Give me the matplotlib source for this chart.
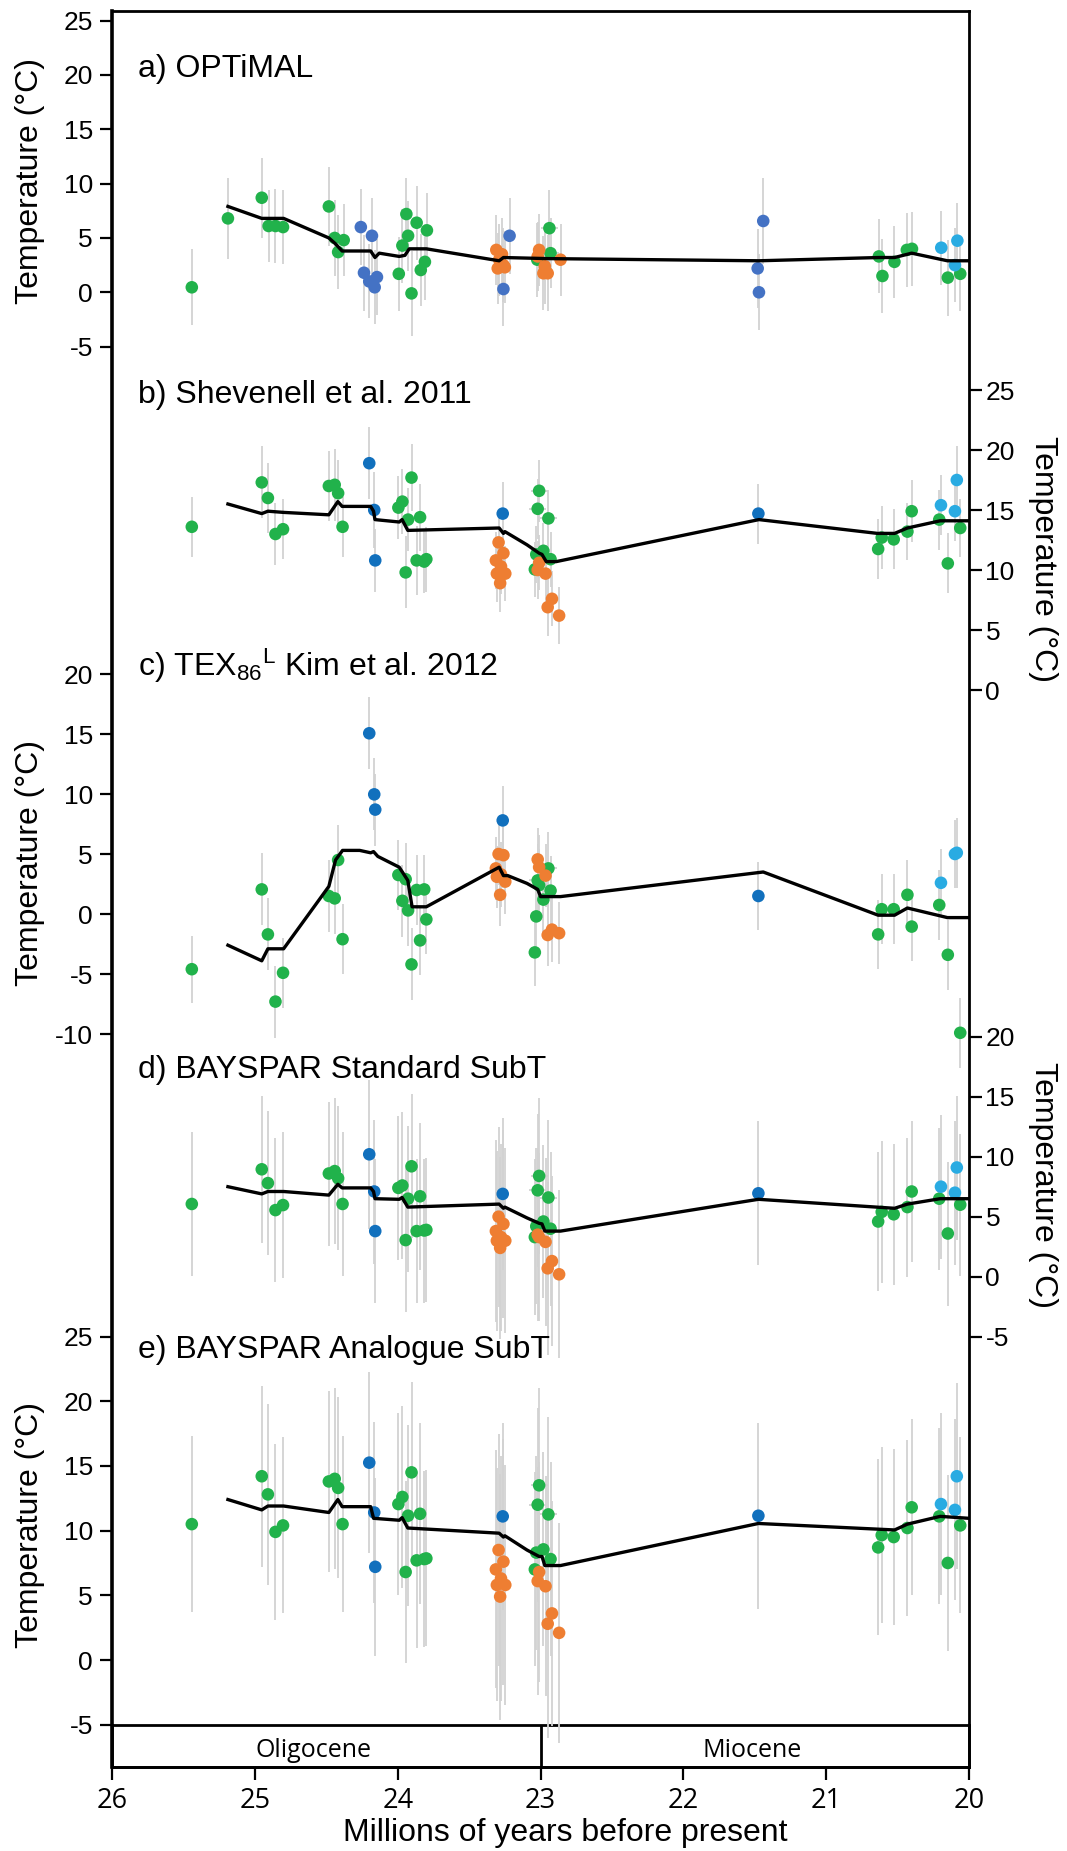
import matplotlib
matplotlib.use("Agg")
import matplotlib.pyplot as plt

plt.rcParams["font.family"] = ["Liberation Sans", "DejaVu Sans"]
plt.rcParams["mathtext.default"] = "regular"

GREEN = "#21b24b"
BLUE_A = "#4472c4"
BLUE = "#1170bd"
LIGHT_BLUE = "#29abe2"
ORANGE = "#ee7e32"
ERR_GREY = "#d2d2d2"

# ---------------- data ----------------
x_ticks = [26, 25, 24, 23, 22, 21, 20]
epoch_names = ["Oligocene", "Miocene"]
epoch_label_age = [24.59, 21.515]
epoch_boundary = 23.0

# panel a) OPTiMAL (own sample set)
a_green_age = [25.443, 25.19, 24.953, 24.905, 24.857, 24.804, 24.483, 24.442, 24.418, 24.379,
               23.993, 23.968, 23.94, 23.928, 23.904, 23.868, 23.839, 23.81, 23.796,
               23.023, 22.938, 22.93, 20.63, 20.605, 20.521, 20.434, 20.398, 20.147, 20.06]
a_green = [0.46, 6.8, 8.7, 6.1, 6.1, 6.0, 7.9, 5.0, 3.7, 4.8,
           1.7, 4.3, 7.2, 5.2, -0.1, 6.4, 2.05, 2.8, 5.7,
           3.0, 5.9, 3.6, 3.3, 1.5, 2.8, 3.9, 4.0, 1.35, 1.7]
a_green_err = [3.5, 3.7, 3.7, 3.3, 3.4, 3.4, 3.6, 3.5, 3.4, 3.3,
               3.4, 3.4, 3.3, 3.2, 3.9, 3.4, 3.3, 3.5, 3.4,
               3.4, 3.5, 3.2, 3.4, 3.4, 3.3, 3.4, 3.4, 3.5, 3.4]
a_green_xerr = [0, 0, 0, 0, 0, 0, 0, 0, 0, 0,
                0, 0, 0, 0, 0, 0, 0, 0, 0,
                0, 0.06, 0.06, 0, 0, 0, 0, 0, 0, 0]
a_blue_age = [24.259, 24.181, 24.237, 24.2, 24.146, 24.162, 23.217, 23.26, 21.44, 21.479, 21.47]
a_blue = [6.0, 5.2, 1.8, 1.0, 1.4, 0.46, 5.2, 0.3, 6.56, 2.2, 0.0]
a_blue_err = [3.5, 3.5, 3.5, 3.4, 3.5, 3.4, 3.5, 3.4, 4.0, 3.6, 3.5]
a_lblue_age = [20.193, 20.08, 20.097]
a_lblue = [4.1, 4.75, 2.5]
a_lblue_err = [3.4, 3.5, 3.4]
a_orange_age = [23.31, 23.27, 23.29, 23.26, 23.30, 23.25, 23.01, 23.02, 22.97, 22.98, 22.95, 22.86]
a_orange = [3.9, 3.5, 3.0, 2.5, 2.2, 2.3, 3.9, 3.3, 2.4, 1.75, 1.75, 3.0]
a_orange_err = [3.2, 3.3, 3.3, 3.4, 3.3, 3.3, 3.3, 3.2, 3.5, 3.4, 3.5, 3.3]
a_line_age = [25.19, 24.953, 24.80, 24.483, 24.44, 24.39, 24.19, 24.16, 24.13, 23.99, 23.95,
              23.92, 23.80, 23.29, 23.26, 22.95, 21.47, 20.63, 20.52, 20.40, 20.15, 20.0]
a_line = [7.9, 6.8, 6.8, 5.0, 4.5, 3.8, 3.8, 3.2, 3.6, 3.3, 3.4,
          4.0, 4.0, 2.9, 3.2, 3.1, 2.9, 3.2, 3.2, 3.6, 2.9, 2.9]

# panels b) - e): shared sample ages
g_age = [25.443, 24.953, 24.91, 24.857, 24.804, 24.483, 24.442, 24.418, 24.387,
         23.996, 23.968, 23.945, 23.928, 23.904, 23.868, 23.844, 23.815, 23.80,
         23.04, 23.03, 23.02, 23.01, 22.98, 22.945, 22.93,
         20.635, 20.61, 20.526, 20.43, 20.40, 20.207, 20.147, 20.06]
g_xerr = [0, 0, 0, 0, 0, 0, 0, 0, 0,
          0, 0, 0, 0, 0, 0, 0, 0, 0,
          0, 0, 0.06, 0.06, 0, 0.06, 0,
          0, 0, 0, 0, 0, 0, 0, 0]
blue_age = [24.20, 24.165, 24.158, 23.265, 21.474]
lblue_age = [20.195, 20.097, 20.084]
orange_age = [23.294, 23.26, 23.313, 23.277, 23.306, 23.247, 23.283,
              23.01, 23.02, 22.965, 22.92, 22.95, 22.87]

# b) Shevenell et al. 2011
b_green = [13.6, 17.3, 16.0, 13.0, 13.4, 17.0, 17.1, 16.4, 13.6,
           15.2, 15.7, 9.8, 14.2, 17.7, 10.8, 14.4, 10.7, 10.9,
           10.05, 11.3, 15.1, 16.6, 11.6, 14.3, 10.9,
           11.75, 12.7, 12.55, 13.2, 14.9, 14.2, 10.55, 13.5]
b_green_err = [2.5, 3.0, 2.9, 2.6, 2.5, 2.9, 3.0, 2.8, 2.5,
               2.6, 2.7, 3.0, 2.6, 2.8, 2.9, 2.8, 2.6, 2.7,
               2.3, 2.4, 2.5, 2.6, 2.3, 2.4, 2.3,
               2.5, 2.6, 2.5, 2.4, 2.6, 2.5, 2.5, 2.4]
b_blue = [18.9, 15.0, 10.8, 14.7, 14.7]
b_blue_err = [3.0, 3.2, 2.6, 2.6, 2.5]
b_lblue = [15.4, 14.9, 17.5]
b_lblue_err = [2.5, 2.5, 2.8]
b_orange = [12.3, 11.4, 10.8, 10.3, 9.7, 9.7, 8.9, 10.6, 10.0, 9.7, 7.6, 6.9, 6.2]
b_orange_err = [2.2, 2.3, 2.4, 2.3, 2.4, 2.3, 2.4, 2.3, 2.4, 2.4, 2.3, 2.4, 2.4]
b_line_age = [25.19, 24.953, 24.91, 24.80, 24.483, 24.42, 24.39, 24.19, 24.17, 24.16, 23.99,
              23.97, 23.93, 23.29, 23.26, 23.25, 23.095, 23.01, 22.99, 22.96, 22.89,
              21.47, 20.64, 20.52, 20.43, 20.2, 20.0]
b_line = [15.5, 14.7, 14.9, 14.8, 14.6, 15.7, 15.3, 15.3, 14.9, 14.2, 14.0,
          14.2, 13.3, 13.5, 13.05, 13.2, 12.1, 11.4, 11.3, 10.7, 10.7,
          14.2, 13.05, 13.05, 13.5, 14.1, 14.1]

# c) TEX86L Kim et al. 2012
c_green = [-4.6, 2.05, -1.7, -7.3, -4.9, 1.5, 1.3, 4.5, -2.1,
           3.25, 1.1, 2.9, 0.3, -4.2, 2.0, -2.2, 2.05, -0.45,
           -3.2, -0.2, 2.8, 2.4, 1.2, 3.8, 1.95,
           -1.7, 0.4, 0.4, 1.6, -1.05, 0.75, -3.4, -9.9]
c_green_err = [2.8, 3.0, 3.0, 3.0, 2.9, 3.0, 3.0, 2.9, 2.9,
               2.9, 3.0, 3.0, 3.0, 3.0, 2.9, 2.9, 2.9, 2.9,
               2.8, 2.9, 3.0, 3.0, 2.9, 3.0, 2.9,
               2.9, 2.9, 2.9, 2.9, 2.9, 2.9, 2.9, 2.9]
c_blue = [15.06, 9.97, 8.7, 7.8, 1.5]
c_blue_err = [3.0, 3.0, 3.0, 2.9, 2.8]
c_lblue = [2.6, 5.0, 5.1]
c_lblue_err = [2.8, 2.8, 2.9]
c_orange = [5.0, 4.9, 3.8, 3.3, 3.1, 2.7, 1.6, 3.9, 4.55, 3.2, -1.3, -1.75, -1.6]
c_orange_err = [2.6, 2.7, 2.6, 2.7, 2.6, 2.7, 2.6, 2.7, 2.6, 2.6, 2.7, 2.6, 2.6]
c_line_age = [25.19, 24.953, 24.91, 24.80, 24.483, 24.436, 24.387, 24.267, 24.19, 24.17, 24.14,
              23.99, 23.93, 23.90, 23.80, 23.29, 23.26, 23.23, 23.095, 23.02, 23.0, 22.86,
              21.44, 20.635, 20.52, 20.43, 20.15, 20.0]
c_line = [-2.6, -3.9, -2.9, -2.9, 2.3, 4.5, 5.3, 5.3, 5.1, 5.2, 4.8,
          3.9, 2.8, 0.6, 0.6, 3.9, 3.2, 3.2, 2.55, 2.05, 1.45, 1.45,
          3.5, -0.1, -0.1, 0.5, -0.3, -0.3]

# d) BAYSPAR Standard SubT
d_green = [6.06, 8.95, 7.8, 5.55, 5.97, 8.6, 8.8, 8.2, 6.06,
           7.4, 7.6, 3.05, 6.5, 9.2, 3.8, 6.7, 3.85, 3.9,
           3.3, 4.2, 7.2, 8.4, 4.6, 6.6, 4.0,
           4.6, 5.4, 5.2, 5.8, 7.1, 6.5, 3.6, 6.0]
d_green_err = [6.0, 6.1, 6.0, 6.0, 6.1, 6.0, 6.1, 6.0, 6.0,
               6.0, 6.1, 6.0, 6.1, 6.0, 6.0, 6.1, 6.0, 6.0,
               6.5, 6.5, 6.4, 6.5, 6.4, 6.5, 6.4,
               5.8, 5.9, 5.9, 5.8, 5.9, 5.9, 6.0, 5.9]
d_blue = [10.2, 7.1, 3.8, 6.9, 6.95]
d_blue_err = [6.2, 6.0, 6.0, 6.3, 6.0]
d_lblue = [7.5, 7.0, 9.1]
d_lblue_err = [6.0, 6.0, 6.0]
d_orange = [5.0, 4.4, 3.8, 3.3, 3.0, 3.0, 2.4, 3.3, 3.5, 2.9, 1.3, 0.7, 0.2]
d_orange_err = [7.5, 7.8, 7.6, 7.8, 7.5, 7.7, 7.6, 7.0, 7.2, 7.0, 7.1, 7.2, 7.0]
d_line_age = [25.19, 24.953, 24.91, 24.80, 24.483, 24.42, 24.39, 24.19, 24.17, 24.16, 23.99,
              23.97, 23.93, 23.29, 23.26, 23.25, 23.095, 23.01, 22.99, 22.97, 22.86,
              21.474, 20.52, 20.43, 20.2, 20.0]
d_line = [7.5, 6.9, 7.1, 7.1, 6.8, 7.7, 7.4, 7.4, 7.1, 6.5, 6.45,
          6.6, 5.8, 6.05, 5.7, 5.8, 4.9, 4.45, 4.4, 3.8, 3.8,
          6.45, 5.7, 6.05, 6.5, 6.5]

# e) BAYSPAR Analogue SubT
e_green = [10.5, 14.2, 12.8, 9.9, 10.4, 13.8, 14.0, 13.3, 10.5,
           12.05, 12.6, 6.8, 11.15, 14.5, 7.7, 11.3, 7.8, 7.85,
           7.0, 8.3, 12.0, 13.5, 8.55, 11.25, 7.8,
           8.7, 9.65, 9.5, 10.2, 11.8, 11.1, 7.5, 10.4]
e_green_err = [6.8, 7.0, 7.0, 6.8, 6.8, 7.0, 7.0, 7.0, 6.8,
               7.0, 7.0, 7.0, 7.0, 7.0, 6.8, 7.0, 6.8, 6.8,
               7.5, 7.5, 7.5, 7.5, 7.5, 7.5, 7.5,
               6.8, 6.8, 6.8, 6.8, 6.8, 6.8, 6.8, 6.8]
e_blue = [15.25, 11.4, 7.2, 11.1, 11.15]
e_blue_err = [7.0, 7.0, 6.9, 7.2, 7.2]
e_lblue = [12.05, 11.6, 14.2]
e_lblue_err = [7.0, 7.0, 7.2]
e_orange = [8.5, 7.6, 7.0, 6.3, 5.8, 5.8, 4.9, 6.8, 6.1, 5.7, 3.6, 2.8, 2.1]
e_orange_err = [9.0, 9.5, 9.2, 9.5, 9.0, 9.3, 9.5, 8.5, 8.8, 8.5, 8.7, 8.8, 8.5]
e_line_age = [25.19, 24.953, 24.91, 24.80, 24.483, 24.42, 24.39, 24.19, 24.17, 23.99,
              23.97, 23.93, 23.29, 23.26, 23.25, 23.095, 23.01, 22.99, 22.97, 22.86,
              21.474, 20.52, 20.43, 20.2, 20.0]
e_line = [12.4, 11.6, 11.9, 11.9, 11.4, 12.4, 11.85, 11.85, 10.95, 10.8,
          11.0, 10.2, 9.8, 9.5, 9.6, 8.5, 8.0, 8.0, 7.3, 7.3,
          10.55, 10.05, 10.5, 11.1, 10.95]

# ---------------- layout ----------------
W, H = 1067, 1851
fig = plt.figure(figsize=(W / 100, H / 100), dpi=100)

X0, X1 = 112.3, 968.8
TOP, BOT = 10.7, 1766.7
EPOCH_TOP = 1725.0


def fbox(left, top, right, bottom):
    return [left / W, 1 - bottom / H, (right - left) / W, (bottom - top) / H]


base = fig.add_axes(fbox(X0, TOP, X1, BOT))
base.set_xlim(26, 20)
base.set_xticks([])
base.set_yticks([])
for name, s in base.spines.items():
    s.set_linewidth(2.6 if name == "left" else 2.0)

ep = fig.add_axes(fbox(X0, EPOCH_TOP, X1, BOT))
ep.set_xlim(26, 20)
ep.set_ylim(0, 1)
ep.patch.set_visible(False)
ep.set_yticks([])
ep.set_xticks(x_ticks)
ep.set_xticklabels([str(t) for t in x_ticks])
ep.tick_params(axis="x", direction="out", length=9.5, width=1.6, pad=5,
               labelsize=19.5, labelfontfamily="Open Sans")
for s in ep.spines.values():
    s.set_linewidth(2.0)
ep.axvline(epoch_boundary, color="black", lw=2.0)
for name, age in zip(epoch_names, epoch_label_age):
    ep.text(age, 0.24, name, ha="center", va="baseline", fontsize=18,
            family="Open Sans")


def panel(zero_px, px_per_deg, side, ticks):
    ax = fig.add_axes(fbox(X0, TOP, X1, BOT))
    ax.patch.set_visible(False)
    for s in ax.spines.values():
        s.set_visible(False)
    ax.set_xlim(26, 20)
    ax.set_ylim((zero_px - BOT) / px_per_deg, (zero_px - TOP) / px_per_deg)
    ax.set_xticks([])
    ax.set_yticks(ticks)
    ax.set_yticklabels([str(t) for t in ticks])
    if side == "right":
        ax.yaxis.tick_right()
        ax.tick_params(axis="y", pad=3)
    else:
        ax.tick_params(axis="y", pad=5)
    ax.tick_params(axis="y", direction="out", length=9, width=1.6, labelsize=19)
    return ax


def draw(ax, ages, temps, errs, color, xerr=None):
    ax.errorbar(ages, temps, yerr=errs, xerr=xerr, fmt="none", ecolor=ERR_GREY,
                elinewidth=1.3, capsize=0, zorder=1)
    ax.scatter(ages, temps, s=82, color=color, edgecolors="none", zorder=3)


def draw_line(ax, ages, temps):
    ax.plot(ages, temps, color="black", lw=2.4, zorder=4, solid_joinstyle="round")


# a)
ax_a = panel(292.3, 10.87, "left", [25, 20, 15, 10, 5, 0, -5])
draw(ax_a, a_green_age, a_green, a_green_err, GREEN, a_green_xerr)
draw(ax_a, a_blue_age, a_blue, a_blue_err, BLUE_A)
draw(ax_a, a_orange_age, a_orange, a_orange_err, ORANGE)
draw(ax_a, a_lblue_age, a_lblue, a_lblue_err, LIGHT_BLUE)
draw_line(ax_a, a_line_age, a_line)

panels = [
    (690.0, 12.0, "right", [25, 20, 15, 10, 5, 0],
     b_green, b_green_err, b_blue, b_blue_err, b_orange, b_orange_err,
     b_lblue, b_lblue_err, b_line_age, b_line),
    (914.0, 12.0, "left", [20, 15, 10, 5, 0, -5, -10],
     c_green, c_green_err, c_blue, c_blue_err, c_orange, c_orange_err,
     c_lblue, c_lblue_err, c_line_age, c_line),
    (1276.7, 12.0, "right", [20, 15, 10, 5, 0, -5],
     d_green, d_green_err, d_blue, d_blue_err, d_orange, d_orange_err,
     d_lblue, d_lblue_err, d_line_age, d_line),
    (1660.0, 12.94, "left", [25, 20, 15, 10, 5, 0, -5],
     e_green, e_green_err, e_blue, e_blue_err, e_orange, e_orange_err,
     e_lblue, e_lblue_err, e_line_age, e_line),
]
for (z, k, side, ticks, gv, ge, bv, be, ov, oe, lv, le, la, lt) in panels:
    ax = panel(z, k, side, ticks)
    draw(ax, g_age, gv, ge, GREEN, g_xerr)
    draw(ax, blue_age, bv, be, BLUE)
    draw(ax, orange_age, ov, oe, ORANGE)
    draw(ax, lblue_age, lv, le, LIGHT_BLUE)
    draw_line(ax, la, lt)

# panel titles
titles = [
    (77, "a) OPTiMAL"),
    (403, "b) Shevenell et al. 2011"),
    (676, "c) TEX$_{86}$$^{L}$ Kim et al. 2012"),
    (1078, "d) BAYSPAR Standard SubT"),
    (1358, "e) BAYSPAR Analogue SubT"),
]
for y, t in titles:
    fig.text(138 / W, 1 - y / H, t, fontsize=23, ha="left", va="baseline")

# y labels
for y, side in [(181, "left"), (559, "right"), (863, "left"), (1185, "right"), (1525, "left")]:
    if side == "left":
        fig.text(30 / W, 1 - y / H, "Temperature (°C)", rotation=90,
                 ha="center", va="center", fontsize=23)
    else:
        fig.text(1043 / W, 1 - y / H, "Temperature (°C)", rotation=270,
                 ha="center", va="center", fontsize=23)

fig.text(565 / W, 1 - 1841 / H, "Millions of years before present",
         ha="center", va="baseline", fontsize=23)

fig.savefig("out.png", dpi=100)
